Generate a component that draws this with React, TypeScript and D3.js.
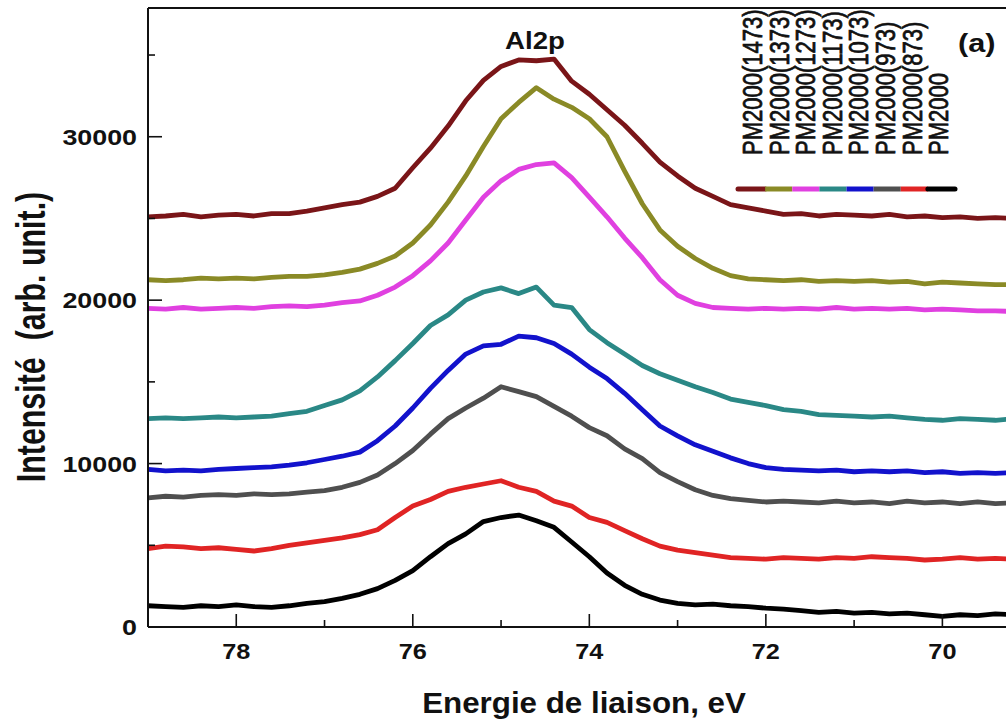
import React from "react";
import * as d3 from "d3";

// Binding energy grid (eV), from high to low
const energies = [
  79.0, 78.8, 78.6, 78.4, 78.2, 78.0, 77.8, 77.6, 77.4, 77.2,
  77.0, 76.8, 76.6, 76.4, 76.2, 76.0, 75.8, 75.6, 75.4, 75.2,
  75.0, 74.8, 74.6, 74.4, 74.2, 74.0, 73.8, 73.6, 73.4, 73.2,
  73.0, 72.8, 72.6, 72.4, 72.2, 72.0, 71.8, 71.6, 71.4, 71.2,
  71.0, 70.8, 70.6, 70.4, 70.2, 70.0, 69.8, 69.6, 69.4, 69.2,
];

// Al2p intensities (arb. unit.) per sample, stacked as measured
const pm1473 = [
  25100, 25150, 25250, 25100, 25200, 25250, 25150, 25300, 25300, 25450,
  25650, 25850, 26000, 26350, 26850, 28100, 29300, 30650, 32200, 33450,
  34300, 34700, 34650, 34750, 33400, 32600, 31650, 30700, 29600, 28450,
  27600, 26850, 26350, 25850, 25650, 25450, 25250, 25300, 25150, 25250,
  25200, 25150, 25250, 25100, 25150, 25050, 25100, 25000, 25050, 25000,
];
const pm1373 = [
  21250, 21200, 21250, 21350, 21300, 21350, 21300, 21400, 21450, 21450,
  21550, 21700, 21900, 22250, 22700, 23500, 24600, 26000, 27600, 29400,
  31100, 32100, 33000, 32300, 31800, 31100, 30000, 27900, 25900, 24300,
  23300, 22550, 21950, 21500, 21300, 21250, 21200, 21250, 21150, 21200,
  21150, 21200, 21100, 21150, 21000, 21100, 21050, 21000, 20950, 20950,
];
const pm1273 = [
  19500, 19450, 19550, 19450, 19500, 19550, 19500, 19600, 19650, 19600,
  19700, 19850, 19950, 20300, 20800, 21500, 22400, 23500, 24900, 26300,
  27300, 28000, 28300, 28400, 27500, 26300, 25100, 23800, 22600, 21250,
  20300, 19800, 19550, 19500, 19450, 19500, 19450, 19500, 19450, 19550,
  19450, 19500, 19450, 19500, 19400, 19450, 19400, 19350, 19350, 19300,
];
const pm1173 = [
  12750, 12800, 12750, 12800, 12850, 12800, 12850, 12900, 13050, 13200,
  13550, 13900, 14450, 15300, 16300, 17350, 18450, 19100, 20000, 20500,
  20750, 20400, 20800, 19700, 19550, 18200, 17400, 16700, 16000, 15500,
  15100, 14700, 14350, 13950, 13750, 13550, 13300, 13200, 13000, 12950,
  12900, 12850, 12900, 12800, 12700, 12650, 12750, 12700, 12650, 12750,
];
const pm1073 = [
  9650, 9550, 9600, 9550, 9650, 9700, 9750, 9800, 9900, 10050,
  10250, 10450, 10700, 11400, 12300, 13400, 14600, 15700, 16700, 17200,
  17300, 17800, 17700, 17350, 16700, 15900, 15200, 14300, 13300, 12300,
  11700, 11150, 10750, 10350, 10000, 9750, 9650, 9600, 9550, 9600,
  9500, 9550, 9500, 9550, 9450, 9500, 9400, 9450, 9400, 9450,
];
const pm973 = [
  7900, 8000, 7950, 8050, 8100, 8050, 8150, 8100, 8150, 8250,
  8350, 8550, 8850, 9300, 10000, 10800, 11800, 12750, 13400, 14000,
  14700, 14400, 14100, 13500, 12900, 12200, 11700, 10900, 10300, 9450,
  8900, 8400, 8050, 7850, 7750, 7650, 7700, 7650, 7600, 7700,
  7600, 7650, 7550, 7700, 7600, 7650, 7550, 7650, 7550, 7600,
];
const pm873 = [
  4800, 4950, 4900, 4800, 4850, 4750, 4650, 4800, 5000, 5150,
  5300, 5450, 5650, 5950, 6700, 7400, 7800, 8300, 8550, 8750,
  8950, 8550, 8300, 7700, 7400, 6700, 6400, 5900, 5400, 4950,
  4700, 4550, 4400, 4250, 4200, 4150, 4250, 4200, 4150, 4250,
  4200, 4300, 4250, 4200, 4100, 4150, 4250, 4150, 4200, 4150,
];
const pm2000 = [
  1300, 1250, 1200, 1300, 1250, 1350, 1250, 1200, 1300, 1450,
  1550, 1750, 2000, 2350, 2850, 3450, 4300, 5100, 5700, 6450,
  6700, 6850, 6500, 6100, 5200, 4300, 3300, 2550, 2000, 1650,
  1450, 1350, 1400, 1300, 1250, 1150, 1100, 1000, 900, 950,
  850, 900, 800, 850, 750, 650, 750, 700, 800, 750,
];

const seriesNames = [
  "PM2000(1473)",
  "PM2000(1373)",
  "PM2000(1273)",
  "PM2000(1173)",
  "PM2000(1073)",
  "PM2000(973)",
  "PM2000(873)",
  "PM2000",
];
const seriesValues = [pm1473, pm1373, pm1273, pm1173, pm1073, pm973, pm873, pm2000];
const seriesColors = [
  "#7a1518",
  "#8a8a26",
  "#e040e0",
  "#2a8886",
  "#1212cc",
  "#4f4f4f",
  "#e02424",
  "#000000",
];

const xMajorTicks = [78, 76, 74, 72, 70];
const xMinorTicks = [79, 77, 75, 73, 71, 69];
const yMajorTicks = [0, 10000, 20000, 30000];
const yMinorTicks = [5000, 15000, 25000, 35000];

const W = 1006;
const H = 720;
const left = 148;
const top = 8;
const bottom = 627;
const FONT = "'Liberation Sans', Arial, Helvetica, sans-serif";

type STextProps = {
  x: number;
  y: number;
  sx?: number;
  rotate?: number;
  size: number;
  weight?: string | number;
  anchor?: "start" | "middle" | "end";
  dy?: string;
  outline?: number;
  children: React.ReactNode;
};

function SText({ x, y, sx = 1, rotate, size, weight = "bold", anchor = "start", dy, outline, children }: STextProps) {
  const t = `translate(${x},${y}) scale(${sx},1)` + (rotate ? ` rotate(${rotate})` : "");
  return (
    <text
      transform={t}
      fontFamily={FONT}
      fontSize={size}
      fontWeight={weight}
      textAnchor={anchor}
      dy={dy}
      fill="#111"
      stroke={outline ? "#111" : undefined}
      strokeWidth={outline}
    >
      {children}
    </text>
  );
}

export default function App() {
  const x = d3.scaleLinear().domain([79, 69.2]).range([left, 1013]);
  const y = d3.scaleLinear().domain([0, 38000]).range([bottom, 6]);

  const line = d3
    .line<[number, number]>()
    .x((d) => x(d[0]))
    .y((d) => y(d[1]))
    .curve(d3.curveLinear);

  const legendX0 = 738;
  const legendX1 = 955;
  const segW = (legendX1 - legendX0) / seriesColors.length;

  return (
    <svg
      width={W}
      height={H}
      style={{ position: "absolute", left: 0, top: 0, background: "#fff" }}
    >
      <rect x={0} y={0} width={W} height={H} fill="#fff" />
      <defs>
        <clipPath id="plotClip">
          <rect x={left} y={top} width={W - left} height={bottom - top} />
        </clipPath>
      </defs>

      {/* spectra */}
      <g clipPath="url(#plotClip)">
        {seriesValues.map((vals, i) => (
          <path
            key={seriesNames[i]}
            d={line(energies.map((e, j) => [e, vals[j]] as [number, number])) || ""}
            fill="none"
            stroke={seriesColors[i]}
            strokeWidth={4.8}
            strokeLinejoin="round"
            strokeLinecap="round"
          />
        ))}
      </g>

      {/* frame */}
      <line x1={left} x2={left} y1={top} y2={bottom} stroke="#111" strokeWidth={2} />
      <line x1={left} x2={W} y1={top} y2={top} stroke="#111" strokeWidth={2} />
      <line x1={left} x2={W} y1={bottom} y2={bottom} stroke="#111" strokeWidth={2} />

      {/* x ticks */}
      {xMajorTicks.map((t) => (
        <g key={"xM" + t}>
          <line x1={x(t)} x2={x(t)} y1={bottom} y2={bottom - 13} stroke="#111" strokeWidth={1.6} />
          <SText x={x(t)} y={659} sx={1.15} size={22} anchor="middle">
            {t}
          </SText>
        </g>
      ))}
      {xMinorTicks.map((t) => (
        <line key={"xm" + t} x1={x(t)} x2={x(t)} y1={bottom} y2={bottom - 7} stroke="#111" strokeWidth={1.6} />
      ))}

      {/* y ticks */}
      {yMajorTicks.map((t) => (
        <g key={"yM" + t}>
          <line x1={left} x2={left + 14} y1={y(t)} y2={y(t)} stroke="#111" strokeWidth={1.6} />
          <SText x={137} y={y(t)} sx={1.22} size={22} anchor="end" dy="0.36em">
            {t}
          </SText>
        </g>
      ))}
      {yMinorTicks.map((t) => (
        <line key={"ym" + t} x1={left} x2={left + 7} y1={y(t)} y2={y(t)} stroke="#111" strokeWidth={1.6} />
      ))}

      {/* axis titles */}
      <SText x={584} y={713} sx={1.08} size={29} anchor="middle">
        Energie de liaison, eV
      </SText>
      <SText x={45} y={337} sx={1.35} size={30.4} anchor="middle" rotate={-90}>
        {"Intensité\u00a0 (arb. unit.)"}
      </SText>

      {/* annotations */}
      <SText x={535} y={49} sx={1.2} size={23} anchor="middle">
        Al2p
      </SText>
      <SText x={958} y={52} sx={1.18} size={26} anchor="start">
        (a)
      </SText>

      {/* legend */}
      {seriesNames.map((name, i) => (
        <SText
          key={"lab" + name}
          x={762 + i * 26.6}
          y={155}
          sx={1.25}
          size={22}
          weight="normal"
          rotate={-90}
          outline={0.6}
        >
          {name}
        </SText>
      ))}
      {seriesColors.map((c, i) => (
        <line
          key={"seg" + i}
          x1={legendX0 + i * segW}
          x2={legendX0 + (i + 1) * segW}
          y1={189}
          y2={189}
          stroke={c}
          strokeWidth={5}
          strokeLinecap={i === 0 || i === seriesColors.length - 1 ? "round" : "butt"}
        />
      ))}
    </svg>
  );
}
